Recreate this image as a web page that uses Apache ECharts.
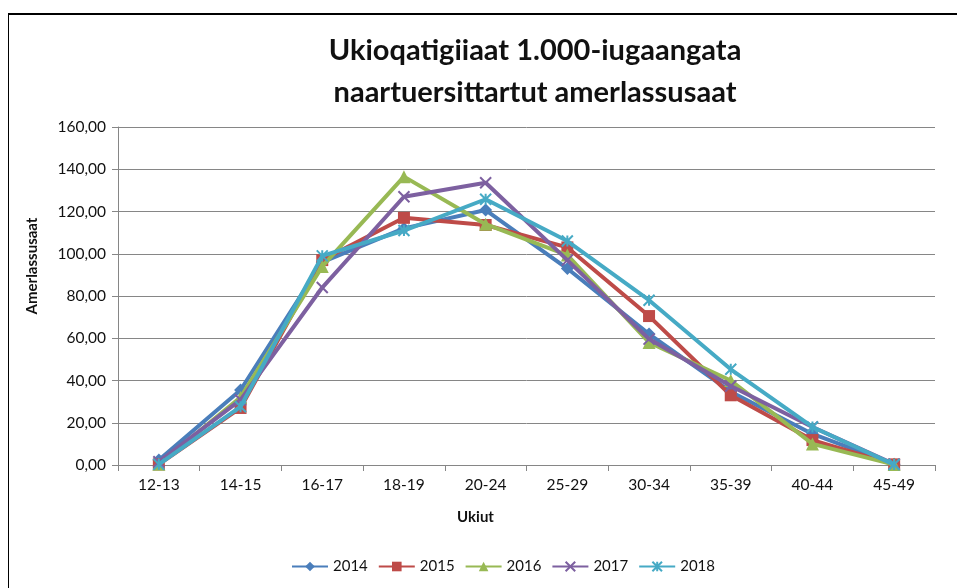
<!DOCTYPE html>
<html>
<head>
<meta charset="utf-8">
<script src="https://cdn.jsdelivr.net/npm/echarts@6/dist/echarts.min.js"></script>
<style>
  html, body { margin: 0; padding: 0; background: #fff; }
  #frame { position: absolute; left: 8px; top: 13px; width: 1000px; height: 1000px; border-left: 1px solid #000; border-top: 2px solid #000; box-sizing: border-box; }
  #chart { position: absolute; left: 0; top: 0; width: 957px; height: 588px; }
</style>
</head>
<body>
<div id="frame"></div>
<div id="chart"></div>
<script>
  // age groups on the x axis
  const ageGroups = ['12-13', '14-15', '16-17', '18-19', '20-24', '25-29', '30-34', '35-39', '40-44', '45-49']
  const years = ['2014', '2015', '2016', '2017', '2018']

  const values2014 = [2.4, 35.5, 96, 112, 120.7, 93, 62, 34.7, 14.7, 0.3]
  const values2015 = [0.3, 27, 97, 117, 113.6, 103, 70.5, 33, 11.8, 0.3]
  const values2016 = [0.3, 32, 94, 136.5, 114, 99.4, 58, 40, 10, 0.2]
  const values2017 = [1.5, 30.8, 84, 127, 133.6, 97, 59.6, 37.4, 18, 0.4]
  const values2018 = [0.3, 27.6, 99, 111, 125.8, 106, 78, 45.3, 18, 0.2]

  const colors = ['#4A7EBB', '#BE4B48', '#98B954', '#7D60A0', '#46AAC5']
  const symbols = [
    'diamond',
    'rect',
    'triangle',
    'path://M0,0L10,10M10,0L0,10',
    'path://M0,0L10,10M10,0L0,10M5,0L5,10'
  ]
  const symbolSizes = [13, 12, 13, 11, 11]

  const font = 'Lato, "Liberation Sans", sans-serif'
  const chart = echarts.init(document.getElementById('chart'))

  const seriesData = [values2014, values2015, values2016, values2017, values2018]
  const series = seriesData.map((data, i) => {
    const isPath = symbols[i].startsWith('path://')
    return {
      name: years[i],
      type: 'line',
      data: data,
      symbol: symbols[i],
      symbolSize: symbolSizes[i],
      showAllSymbol: true,
      lineStyle: { color: colors[i], width: 4 },
      itemStyle: isPath
        ? { color: colors[i], borderColor: colors[i], borderWidth: 2 }
        : { color: colors[i], borderColor: colors[i], borderWidth: 0 },
      emphasis: { disabled: true },
      z: 2 + i
    }
  })

  chart.setOption({
    animation: false,
    color: colors,
    textStyle: { fontFamily: font },
    title: {
      text: 'Ukioqatigiiaat 1.000-iugaangata\nnaartuersittartut amerlassusaat',
      left: 530,
      textAlign: 'center',
      top: 25,
      textStyle: { fontSize: 29, fontWeight: 'bold', color: '#111', lineHeight: 42, fontFamily: font }
    },
    legend: {
      data: years,
      top: 554,
      left: 286,
      itemWidth: 36,
      itemHeight: 12,
      itemGap: 10,
      textStyle: { fontSize: 15, color: '#111', fontFamily: font }
    },
    grid: { left: 118, right: 22, top: 127, bottom: 123 },
    xAxis: {
      type: 'category',
      data: ageGroups,
      boundaryGap: true,
      name: 'Ukiut',
      nameLocation: 'middle',
      nameGap: 45,
      nameTextStyle: { fontSize: 15, fontWeight: 'bold', color: '#111', padding: [0, 102, 0, 0] },
      axisLine: { lineStyle: { color: '#868686', width: 1 } },
      axisTick: { show: true, length: 6, lineStyle: { color: '#868686' } },
      axisLabel: { fontSize: 15.5, color: '#111', margin: 12 }
    },
    yAxis: {
      type: 'value',
      min: 0,
      max: 160,
      interval: 20,
      name: 'Amerlassusaat',
      nameLocation: 'middle',
      nameGap: 78,
      nameRotate: 90,
      nameTextStyle: { fontSize: 15, fontWeight: 'bold', color: '#111', padding: [0, 0, 0, 60] },
      axisLine: { show: true, lineStyle: { color: '#868686', width: 1 } },
      axisTick: { show: true, length: 6, lineStyle: { color: '#868686' } },
      splitLine: { lineStyle: { color: '#868686', width: 1 } },
      axisLabel: {
        fontSize: 15.5,
        color: '#111',
        margin: 12,
        formatter: v => v.toFixed(2).replace('.', ',')
      }
    },
    series: series
  })
</script>
</body>
</html>
